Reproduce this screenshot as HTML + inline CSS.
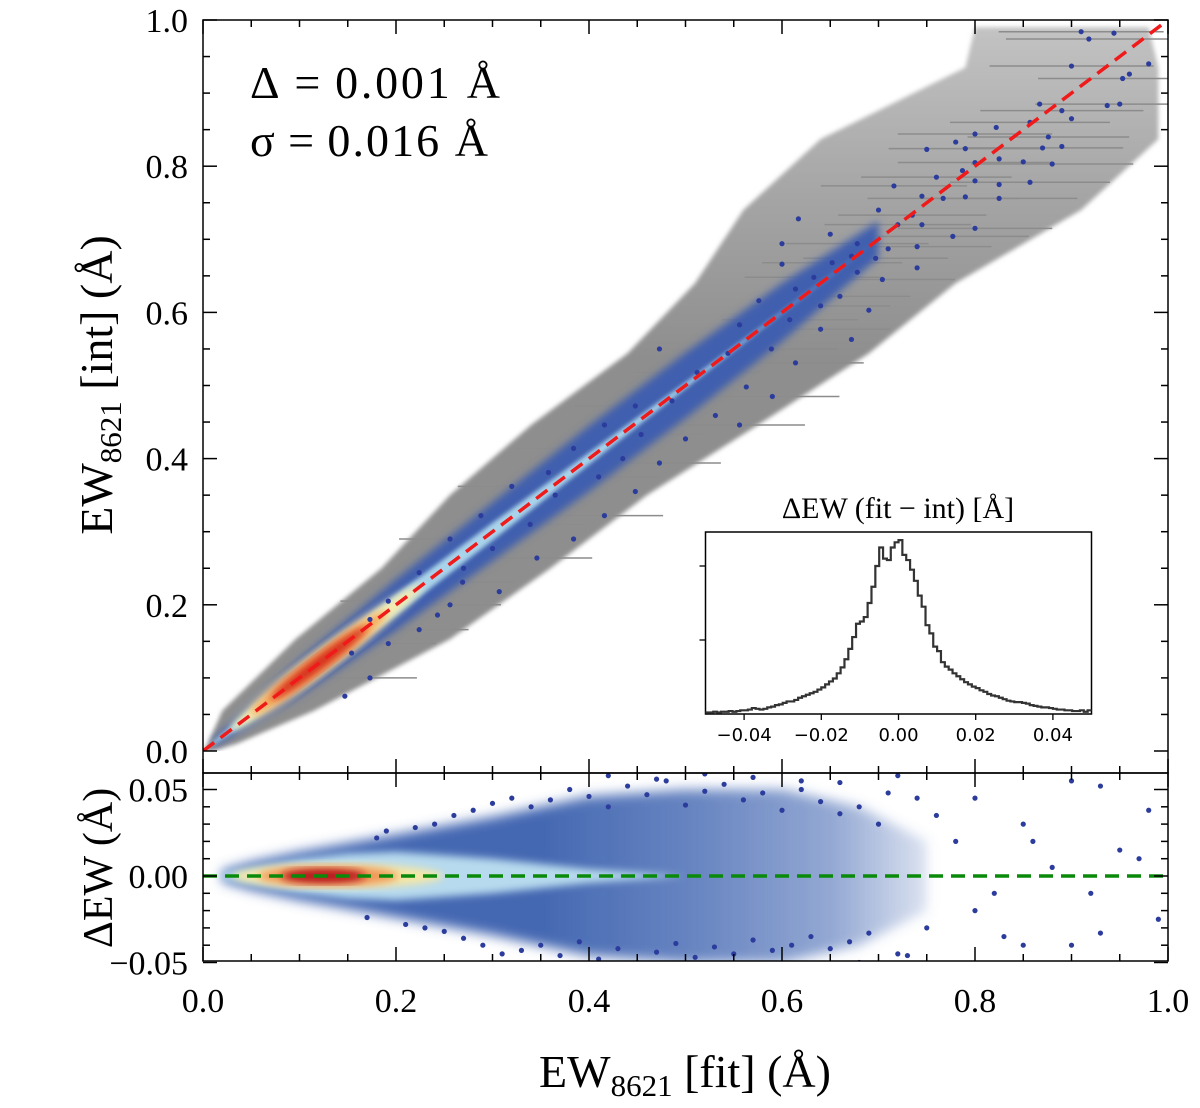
<!DOCTYPE html>
<html><head><meta charset="utf-8"><style>
body{margin:0;background:#fff}
svg text{font-family:"Liberation Serif","DejaVu Serif",serif}
svg text.sans{font-family:"DejaVu Sans","Liberation Sans",sans-serif}
</style></head><body>
<svg id="fig" width="1200" height="1103" viewBox="0 0 1200 1103" xmlns="http://www.w3.org/2000/svg">
<defs>
<filter id="blur4" x="-20%" y="-20%" width="140%" height="140%"><feGaussianBlur stdDeviation="4"/></filter>
<filter id="blur6" x="-20%" y="-30%" width="140%" height="160%"><feGaussianBlur stdDeviation="6"/></filter>
<filter id="blur2" x="-20%" y="-20%" width="140%" height="140%"><feGaussianBlur stdDeviation="2"/></filter>
<linearGradient id="greyGrad" gradientUnits="userSpaceOnUse" x1="0" y1="20" x2="0" y2="360">
<stop offset="0" stop-color="#c4c4c4"/><stop offset="0.5" stop-color="#a6a6a6"/><stop offset="1" stop-color="#8e8e8e"/></linearGradient>
<linearGradient id="resGrad" gradientUnits="userSpaceOnUse" x1="203" y1="0" x2="1168" y2="0">
<stop offset="0" stop-color="#4568b2" stop-opacity="1"/>
<stop offset="0.35" stop-color="#4568b2" stop-opacity="1"/>
<stop offset="0.5" stop-color="#4a6db5" stop-opacity="0.85"/>
<stop offset="0.65" stop-color="#4a6db5" stop-opacity="0.6"/>
<stop offset="0.75" stop-color="#4a6db5" stop-opacity="0.2"/>
</linearGradient>
<clipPath id="clipTop"><rect x="203" y="20" width="965" height="731"/></clipPath>
<clipPath id="clipBot"><rect x="203" y="773" width="965" height="188"/></clipPath>
</defs>
<g id="topPanel"></g>
<g id="botPanel"></g>
<g id="insetPanel"></g>
<g id="labelsG"></g>
</svg>
<script>
// ---------- data ----------
const envY   = [0.0, 0.01, 0.055, 0.153, 0.25, 0.35, 0.446, 0.544, 0.64, 0.74, 0.837, 0.935, 0.99];
const envXlo = [0.0, 0.005, 0.02, 0.096, 0.185, 0.256, 0.34, 0.44, 0.51, 0.56, 0.64, 0.79, 0.80];
const envXhi = [0.01, 0.035, 0.115, 0.256, 0.36, 0.46, 0.575, 0.69, 0.78, 0.91, 0.99, 0.99, 0.98];
const bandX  = [0.01, 0.05, 0.1, 0.2, 0.3, 0.4, 0.5, 0.6, 0.7];
const bandW  = [0.005, 0.015, 0.025, 0.035, 0.04, 0.045, 0.045, 0.04, 0.025];
const coreW  = [0.002, 0.008, 0.012, 0.014, 0.012, 0.008, 0.004, 0.001, 0.0];
const topPtsX = [0.91,0.944,0.918,0.98,0.90,0.96,0.953,0.867,0.95,0.937,0.89,0.9,0.857,0.822,0.80,0.78,0.876,0.89,0.87,0.75,0.79,0.825,0.8,0.85,0.88,0.787,0.76,0.8,0.857,0.825,0.716,0.745,0.767,0.79,0.825,0.7,0.735,0.617,0.72,0.745,0.8,0.65,0.777,0.6,0.678,0.71,0.74,0.672,0.697,0.6,0.652,0.74,0.633,0.678,0.704,0.614,0.66,0.576,0.64,0.69,0.608,0.556,0.64,0.672,0.589,0.544,0.614,0.473,0.512,0.563,0.59,0.486,0.448,0.531,0.556,0.416,0.454,0.5,0.384,0.435,0.473,0.358,0.41,0.448,0.32,0.365,0.416,0.288,0.339,0.384,0.256,0.3,0.346,0.224,0.269,0.307,0.192,0.243,0.224,0.173,0.192,0.154,0.173,0.147,0.256,0.27];
const topPtsY = [0.984,0.982,0.974,0.94,0.937,0.926,0.92,0.885,0.885,0.883,0.876,0.865,0.86,0.853,0.844,0.833,0.84,0.827,0.825,0.823,0.824,0.81,0.805,0.806,0.803,0.794,0.785,0.78,0.778,0.775,0.773,0.759,0.756,0.758,0.756,0.74,0.733,0.728,0.72,0.72,0.715,0.707,0.704,0.694,0.694,0.687,0.69,0.677,0.674,0.666,0.668,0.661,0.648,0.655,0.645,0.632,0.622,0.616,0.609,0.603,0.59,0.583,0.577,0.563,0.55,0.544,0.531,0.55,0.518,0.498,0.485,0.479,0.472,0.459,0.446,0.446,0.433,0.427,0.414,0.4,0.394,0.381,0.375,0.355,0.362,0.35,0.322,0.322,0.31,0.29,0.29,0.277,0.264,0.244,0.231,0.218,0.205,0.186,0.166,0.18,0.147,0.134,0.1,0.075,0.2,0.25];
const resX = [0.02, 0.05, 0.1, 0.15, 0.2, 0.25, 0.3, 0.35, 0.4, 0.5, 0.6, 0.68, 0.75];
const resW = [0.003, 0.008, 0.014, 0.019, 0.024, 0.029, 0.034, 0.04, 0.046, 0.05, 0.05, 0.04, 0.02];
const resInnerW = [0.002, 0.005, 0.01, 0.013, 0.014, 0.012, 0.01, 0.007, 0.004, 0.0, 0.0, 0.0, 0.0];
const botPtsX = [0.72,0.8,0.85,0.9,0.93,0.97,0.98,0.99,0.93,0.95,0.83,0.85,0.9,0.8,0.78,0.75,0.88,0.72,0.7,0.74,0.76,0.82,0.86,0.92,
 0.36,0.38,0.40,0.42,0.44,0.46,0.48,0.50,0.52,0.54,0.56,0.58,0.60,0.62,0.64,0.66,0.68,
 0.35,0.37,0.39,0.41,0.43,0.45,0.47,0.49,0.51,0.53,0.55,0.57,0.59,0.61,0.63,0.65,0.67,0.69,
 0.24,0.26,0.28,0.30,0.32,0.34,0.25,0.27,0.29,0.31,0.33,0.22,0.23,0.19,0.21,0.18,0.17,
 0.42,0.47,0.52,0.57,0.62,0.66,0.44,0.5,0.55,0.6,0.64,0.68,0.71,0.73];
const botPtsY = [0.058,0.045,0.03,0.055,0.052,0.01,0.038,-0.025,-0.033,0.015,-0.035,-0.04,-0.04,-0.02,0.02,-0.03,0.005,-0.045,0.03,0.045,0.035,-0.01,0.02,-0.01,
 0.044,0.05,0.046,0.04,0.052,0.047,0.055,0.041,0.049,0.053,0.044,0.048,0.038,0.05,0.043,0.036,0.04,
 -0.04,-0.046,-0.038,-0.048,-0.042,-0.05,-0.044,-0.039,-0.047,-0.041,-0.045,-0.037,-0.043,-0.04,-0.035,-0.042,-0.038,-0.033,
 0.03,0.035,0.038,0.042,0.045,0.04,-0.032,-0.036,-0.04,-0.045,-0.043,0.028,-0.03,0.026,-0.028,0.022,-0.024,
 0.058,0.056,0.059,0.057,0.055,0.054,-0.055,-0.057,-0.053,-0.056,-0.052,-0.05,0.048,-0.046];
const histCounts = [2,2,3,2,3,3,4,3,4,5, 5,6,8,7,6,7,9,10,12,13, 15,17,17,19,22,24,26,28,30,33, 36,40,44,48,55,63,74,88,104,122,
 125,131,150,172,200,225,210,208,225,232, 235,215,208,195,180,160,145,120,109,91, 85,70,64,60,55,51,47,43,40,37,
 35,32,30,27,25,24,22,20,18,17, 16,16,15,14,12,11,10,9,9,8, 7,6,6,5,5,4,4,5,3,5];
const xTicks = [0.0,0.2,0.4,0.6,0.8,1.0];
const yTicksTop = [0.0,0.2,0.4,0.6,0.8,1.0];
const yTicksBot = [-0.05,0.0,0.05];
const insetTicks = [-0.04,-0.02,0.00,0.02,0.04];

// ---------- scales ----------
const X0=203,X1=1168, TY0=751,TY1=20, BY0=876, BYS=86.5/0.05;
const sx=v=>X0+(X1-X0)*v;
const sy=v=>TY0-(TY0-TY1)*v;
const by=v=>BY0-v*BYS;
const IX0=705.5,IX1=1091.5, IY0=714, IYS=74/100;
const ix=v=>IX0+(v+0.05)/0.1*(IX1-IX0);
const iy=v=>IY0-v*IYS;
const NS="http://www.w3.org/2000/svg";
function mk(tag,attrs,parent){const e=document.createElementNS(NS,tag);for(const k in attrs)e.setAttribute(k,attrs[k]);parent.appendChild(e);return e;}
const topG=document.getElementById('topPanel'),botG=document.getElementById('botPanel'),insG=document.getElementById('insetPanel'),lab=document.getElementById('labelsG');
const tg=mk('g',{'clip-path':'url(#clipTop)'},topG);
const bg=mk('g',{'clip-path':'url(#clipBot)'},botG);

let pts=[];
for(let i=0;i<envY.length;i++)pts.push(sx(envXlo[i])+','+sy(envY[i]));
for(let i=envY.length-1;i>=0;i--)pts.push(sx(envXhi[i])+','+sy(envY[i]));
const cloud=mk('polygon',{points:pts.join(' '),fill:'url(#greyGrad)',filter:'url(#blur2)'},tg);


for(let i=0;i<topPtsX.length;i+=2){
  const x=topPtsX[i],y=topPtsY[i],w=0.04+0.05*x;
  const l=mk('line',{x1:sx(x-w),x2:sx(x+w),y1:sy(y),y2:sy(y),stroke:'#8c8c8c','stroke-width':1.5},tg);
  
  
}
function band(W,color,parent,blur,name){
  let a=[],b=[];
  for(let i=0;i<bandX.length;i++){a.push(sx(bandX[i])+','+sy(bandX[i]+W[i]));b.unshift(sx(bandX[i])+','+sy(bandX[i]-W[i]));}
  const p=mk('polygon',{points:a.concat(b).join(' '),fill:color,filter:blur},parent);
  
  
}
band(bandW,'#3f5fae',tg,'url(#blur4)','density-band');
band(coreW,'#a9d3ea',tg,'url(#blur2)','density-core');
const cg=mk('g',{transform:`rotate(-37.1 ${sx(0.12)} ${sy(0.12)})`},tg);
const e0=mk('ellipse',{cx:sx(0.13),cy:sy(0.12),rx:120,ry:11,fill:'#f6ecb0',filter:'url(#blur4)'},cg);


const e1=mk('ellipse',{cx:sx(0.12),cy:sy(0.12),rx:85,ry:10,fill:'#f4a75a',filter:'url(#blur4)'},cg);


const e2=mk('ellipse',{cx:sx(0.12),cy:sy(0.12),rx:60,ry:7,fill:'#d7301f',filter:'url(#blur4)'},cg);


for(let i=0;i<topPtsX.length;i++){
  const c=mk('circle',{cx:sx(topPtsX[i]),cy:sy(topPtsY[i]),r:2.6,fill:'#2b3c9c'},tg);
  
  
}
const diag=mk('line',{x1:sx(0),y1:sy(0),x2:sx(1),y2:sy(1),stroke:'#f01a1a','stroke-width':3.5,'stroke-dasharray':'14,8'},tg);



function rband(W,color,blur,name){
  let a=[],b=[];
  for(let i=0;i<resX.length;i++){a.push(sx(resX[i])+','+by(W[i]));b.unshift(sx(resX[i])+','+by(-W[i]));}
  const p=mk('polygon',{points:a.concat(b).join(' '),fill:color,filter:blur},bg);
  
  
}
rband(resW,'url(#resGrad)','url(#blur6)','residual-density');
rband(resInnerW,'#b7daee','url(#blur4)','residual-density-inner');
const re0=mk('ellipse',{cx:sx(0.14),cy:by(0),rx:105,ry:12,fill:'#f5e7a5',filter:'url(#blur4)'},bg);


const re1=mk('ellipse',{cx:sx(0.13),cy:by(0),rx:70,ry:10,fill:'#f0995a',filter:'url(#blur4)'},bg);


const re2=mk('ellipse',{cx:sx(0.125),cy:by(0),rx:42,ry:7,fill:'#b5121b',filter:'url(#blur4)'},bg);


for(let i=0;i<botPtsX.length;i++){
  const c=mk('circle',{cx:sx(botPtsX[i]),cy:by(botPtsY[i]),r:2.6,fill:'#2b3c9c'},bg);
  
  
}
const zl=mk('line',{x1:sx(0),x2:sx(1),y1:by(0),y2:by(0),stroke:'#0a8a0a','stroke-width':3.5,'stroke-dasharray':'14,8'},bg);



function frame(y0,y1,name){const r=mk('rect',{x:X0,y:y1,width:X1-X0,height:y0-y1,fill:'none',stroke:'#000','stroke-width':1.5},lab);}
frame(773,20,'main-frame');frame(961,773,'residual-frame');
function tick(x1,y1,x2,y2){mk('line',{x1,y1,x2,y2,stroke:'#000','stroke-width':1.5},lab);}
for(let k=0;k<=20;k++){
  const v=k*0.05, maj=(k%4===0), L=maj?14:7, x=sx(v);
  tick(x,20,x,20+L);tick(x,773,x,773-L);tick(x,773,x,773+L);tick(x,961,x,961-L);
  const y=sy(v); tick(X0,y,X0+L,y); tick(X1,y,X1-L,y);
}
for(let k=-5;k<=6;k++){const v=k*0.01,maj=(k%5===0),L=maj?14:7,y=by(v);if(y<773)continue;tick(X0,y,X0+L,y);tick(X1,y,X1-L,y);}
function txt(s,x,y,size,anchor,parent,name,extra){const t=mk('text',Object.assign({x,y,'font-size':size,'text-anchor':anchor||'middle'},extra||{}),parent||lab);t.textContent=s;return t;}
xTicks.forEach(v=>txt(v.toFixed(1),sx(v),1012,34,'middle',lab,'x-tick-label'));
yTicksTop.forEach(v=>txt(v.toFixed(1),188,sy(v)+12,34,'end',lab,'y-tick-label'));
yTicksBot.forEach(v=>txt((v<0?'\u2212':'')+Math.abs(v).toFixed(2),188,by(v)+12,34,'end',lab,'residual-tick-label'));

const xt=mk('text',{x:685,y:1087,'font-size':46,'text-anchor':'middle'},lab);
xt.innerHTML='EW<tspan font-size="31" dy="9">8621</tspan><tspan dy="-9"> [fit] (\u00c5)</tspan>';


const yt=mk('text',{x:0,y:0,'font-size':46,'text-anchor':'middle',transform:'translate(112 385) rotate(-90)'},lab);
yt.innerHTML='EW<tspan font-size="31" dy="9">8621</tspan><tspan dy="-9"> [int] (\u00c5)</tspan>';


txt('\u0394EW (\u00c5)',0,0,42,'middle',lab,'residual-axis-title',{transform:'translate(112 868) rotate(-90)'});
txt('\u0394\u2009=\u20090.001 \u00c5',250,98,46,'start',lab,'delta-annotation',{textLength:250});
txt('\u03c3\u2009=\u20090.016 \u00c5',250,156,46,'start',lab,'sigma-annotation',{textLength:238});

const ib=mk('rect',{x:IX0,y:532,width:IX1-IX0,height:IY0-532,fill:'#fff',stroke:'#000','stroke-width':1.5},insG);


let d='M'+ix(-0.05)+','+iy(histCounts[0]);
for(let i=0;i<histCounts.length;i++){const a=-0.05+i*0.001;d+=' L'+ix(a)+','+iy(histCounts[i])+' L'+ix(a+0.001)+','+iy(histCounts[i]);}
const hp=mk('path',{d,fill:'none',stroke:'#333','stroke-width':2.2},insG);


insetTicks.forEach(v=>{mk('line',{x1:ix(v),x2:ix(v),y1:IY0,y2:IY0+6,stroke:'#000','stroke-width':1.3},insG);
  const t=mk('text',{x:ix(v),y:IY0+27,'font-size':18,'text-anchor':'middle','class':'sans'},insG);
  t.textContent=(v<0?'\u2212':'')+Math.abs(v).toFixed(2);
  
  });
[100,200].forEach(c=>mk('line',{x1:IX0-6,x2:IX0,y1:iy(c),y2:iy(c),stroke:'#000','stroke-width':1.3},insG));
txt('\u0394EW (fit \u2212 int) [\u00c5]',898,518,30,'middle',insG,'inset-title');
</script>
</body></html>
